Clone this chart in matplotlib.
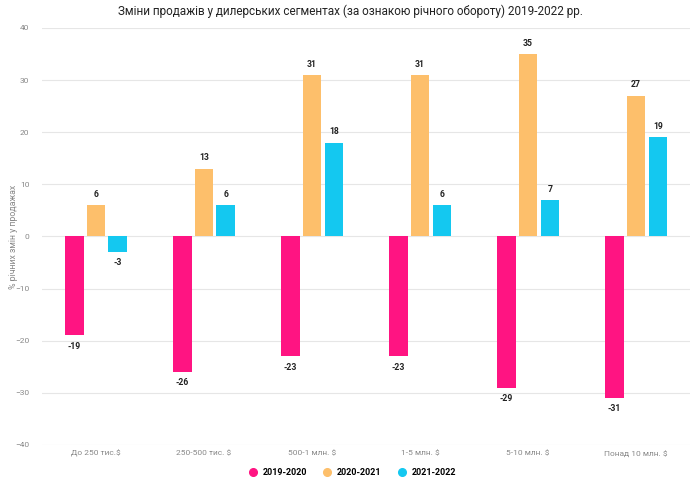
import matplotlib
matplotlib.use("Agg")
import matplotlib.pyplot as plt
import numpy as np

plt.rcParams['font.family'] = ['Roboto', 'DejaVu Sans']

categories = ["До 250 тис.$", "250-500 тис. $", "500-1 млн. $", "1-5 млн. $", "5-10 млн. $", "Понад 10 млн. $"]
series_names = ["2019-2020", "2020-2021", "2021-2022"]
s2019_2020 = [-19, -26, -23, -23, -29, -31]
s2020_2021 = [6, 13, 31, 31, 35, 27]
s2021_2022 = [-3, 6, 18, 6, 7, 19]
colors = ["#FF1482", "#FDBF6B", "#14C8F0"]

fig = plt.figure(figsize=(7, 4.9), dpi=100)
ax = fig.add_axes([0.06, 0.092, 0.926, 0.851])

x = np.arange(len(categories))
width = 0.17
offsets = [-0.2, 0, 0.2]
for vals, off, col, name in zip([s2019_2020, s2020_2021, s2021_2022], offsets, colors, series_names):
    bars = ax.bar(x + off, vals, width, color=col, label=name, zorder=3)
    for b, v in zip(bars, vals):
        if v >= 0:
            ax.text(b.get_x() + b.get_width() / 2, v + 1.2, str(v), ha="center", va="bottom",
                    fontsize=6.2, fontweight="bold", color="#222222")
        else:
            ax.text(b.get_x() + b.get_width() / 2, v - 1.2, str(v), ha="center", va="top",
                    fontsize=6.2, fontweight="bold", color="#222222")

ax.set_ylim(-40, 40)
ax.set_xlim(-0.5, len(categories) - 0.5)
ax.set_yticks(range(-40, 41, 10))
ax.set_xticks(x)
ax.set_xticklabels(categories)
ax.tick_params(axis="both", length=0, labelsize=6, labelcolor="#888888")
ax.tick_params(axis="y", pad=9)
ax.grid(axis="y", color="#e6e6e6", linewidth=0.8, zorder=0)
for s in ax.spines.values():
    s.set_visible(False)
ax.set_ylabel("% річних змін у продажах", fontsize=6.3, color="#888888")
ax.yaxis.set_label_coords(-0.037, 0.5)

fig.suptitle("Зміни продажів у дилерських сегментах (за ознакою річного обороту) 2019-2022 рр.",
             fontsize=8.5, color="#222222", y=0.99)

handles = [plt.Line2D([], [], marker="o", linestyle="", markersize=5.5, color=c) for c in colors]
fig.legend(handles, series_names, loc="center", bbox_to_anchor=(0.5, 0.035), ncol=3, frameon=False,
           handletextpad=0.1, columnspacing=1.2, prop={"weight": "bold", "size": 6.5})

fig.savefig("out.png", dpi=100)
